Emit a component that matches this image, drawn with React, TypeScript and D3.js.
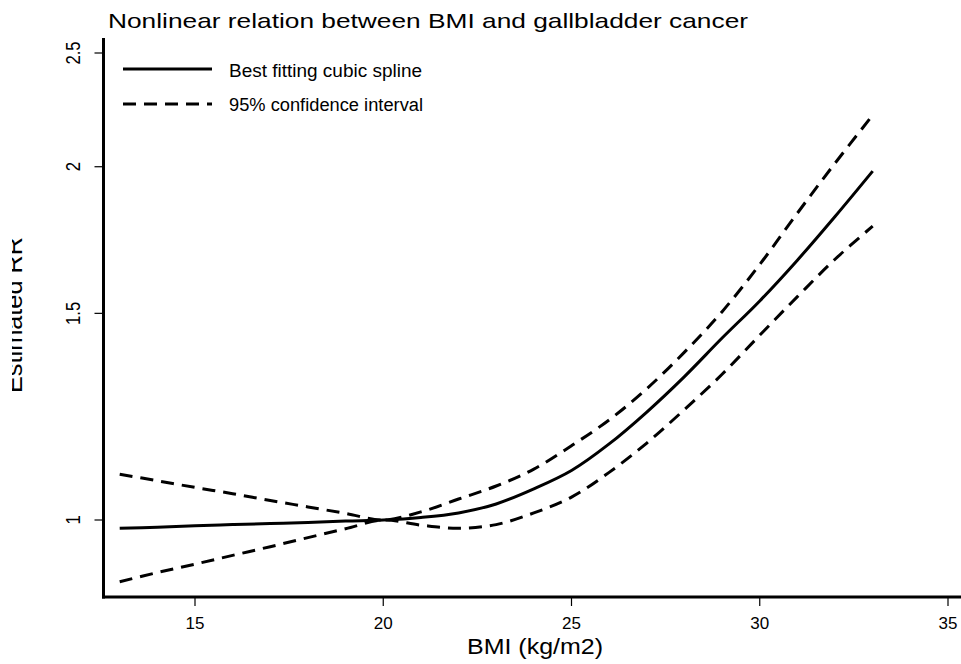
import React from "react";
import * as d3 from "d3";

// ---- data ----
const bmi = [13, 14, 15, 16, 17, 18, 19, 20, 21, 22, 23, 24, 25, 26, 27, 28, 29, 30, 31, 32, 33];
const rrFit = [0.984, 0.986, 0.989, 0.991, 0.993, 0.995, 0.998, 1.0, 1.005, 1.014, 1.032, 1.063, 1.102, 1.161, 1.236, 1.325, 1.429, 1.537, 1.665, 1.814, 1.983];
const rrUpper = [1.094, 1.08, 1.066, 1.053, 1.039, 1.026, 1.013, 1.0, 1.016, 1.042, 1.069, 1.105, 1.157, 1.217, 1.294, 1.39, 1.505, 1.651, 1.826, 2.014, 2.213];
const rrLower = [0.886, 0.902, 0.917, 0.933, 0.949, 0.966, 0.983, 1.0, 0.99, 0.984, 0.991, 1.014, 1.046, 1.098, 1.163, 1.242, 1.331, 1.437, 1.55, 1.668, 1.78];
const xTicks = [15, 20, 25, 30, 35];
const yTicks = [1, 1.5, 2, 2.5];
const yTickLabels = ["1", "1.5", "2", "2.5"];
const legendLabels = ["Best fitting cubic spline", "95% confidence interval"];
const title = "Nonlinear relation between BMI and gallbladder cancer";
const xTitle = "BMI (kg/m2)";
const yTitle = "Estimated RR";

const W = 961;
const H = 664;
const FONT = "'Liberation Sans', Arial, Helvetica, sans-serif";

export default function App() {
  const x = d3.scaleLinear().domain([15, 35]).range([195, 948]);
  const y = d3.scaleLog().domain([1, 2.5]).range([520, 53]);

  const axisX = 103.5;
  const axisY = 597;
  const yTop = 38;
  const xRight = 961;

  const line = (vals: number[]) =>
    d3
      .line<number>()
      .x((_, i) => x(bmi[i]))
      .y((v) => y(v))
      .curve(d3.curveCatmullRom.alpha(0.5))(vals) || "";

  const dash = "13 8";
  const digitW = (s: string) =>
    s.split("").reduce((a, c) => a + (c === "." ? 0.278 : 0.556), 0);

  return (
    <svg
      width={W}
      height={H}
      style={{ position: "absolute", left: 0, top: 0, background: "#fff" }}
      fontFamily={FONT}
    >
      <defs>
        <clipPath id="yclip">
          <rect x={12} y={0} width={100} height={H} />
        </clipPath>
      </defs>
      <rect x={0} y={0} width={W} height={H} fill="#fff" />

      {/* title */}
      <text x={108} y={28} fontSize={21} textLength={640} lengthAdjust="spacingAndGlyphs" fill="#000">
        {title}
      </text>

      {/* axes */}
      <line x1={axisX} x2={axisX} y1={yTop} y2={axisY + 1.5} stroke="#000" strokeWidth={3} />
      <line x1={axisX - 1.5} x2={xRight} y1={axisY} y2={axisY} stroke="#000" strokeWidth={3} />

      {xTicks.map((t) => (
        <g key={"xt" + t}>
          <line x1={x(t)} x2={x(t)} y1={axisY} y2={axisY + 9} stroke="#000" strokeWidth={1.2} />
          <text x={x(t)} y={629} fontSize={17} textAnchor="middle" fill="#000">
            {t}
          </text>
        </g>
      ))}

      {yTicks.map((t, i) => (
        <g key={"yt" + t}>
          <line x1={axisX - 9} x2={axisX} y1={y(t)} y2={y(t)} stroke="#000" strokeWidth={1.2} />
          <text
            transform={`translate(80,${y(t)}) rotate(-90)`}
            fontSize={20}
            textAnchor="middle"
            textLength={digitW(yTickLabels[i]) * 20 * 0.83}
            lengthAdjust="spacingAndGlyphs"
            fill="#000"
          >
            {yTickLabels[i]}
          </text>
        </g>
      ))}

      {/* axis titles */}
      <text x={535} y={654} fontSize={22} textAnchor="middle" textLength={136} lengthAdjust="spacingAndGlyphs" fill="#000">
        {xTitle}
      </text>
      <g clipPath="url(#yclip)">
        <text
          transform={`translate(22,315) rotate(-90)`}
          fontSize={24}
          textAnchor="middle"
          textLength={156}
          lengthAdjust="spacingAndGlyphs"
          fill="#000"
        >
          {yTitle}
        </text>
      </g>

      {/* curves */}
      <path d={line(rrUpper)} fill="none" stroke="#000" strokeWidth={3} strokeDasharray={dash} />
      <path d={line(rrLower)} fill="none" stroke="#000" strokeWidth={3} strokeDasharray={dash} />
      <path d={line(rrFit)} fill="none" stroke="#000" strokeWidth={3} />

      {/* legend */}
      <line x1={123} x2={212} y1={69} y2={69} stroke="#000" strokeWidth={3} />
      <text x={229} y={77} fontSize={18} textLength={193} lengthAdjust="spacingAndGlyphs" fill="#000">
        {legendLabels[0]}
      </text>
      <line x1={123} x2={212} y1={104} y2={104} stroke="#000" strokeWidth={3} strokeDasharray={dash} />
      <text x={229} y={111} fontSize={18} textLength={194} lengthAdjust="spacingAndGlyphs" fill="#000">
        {legendLabels[1]}
      </text>
    </svg>
  );
}
